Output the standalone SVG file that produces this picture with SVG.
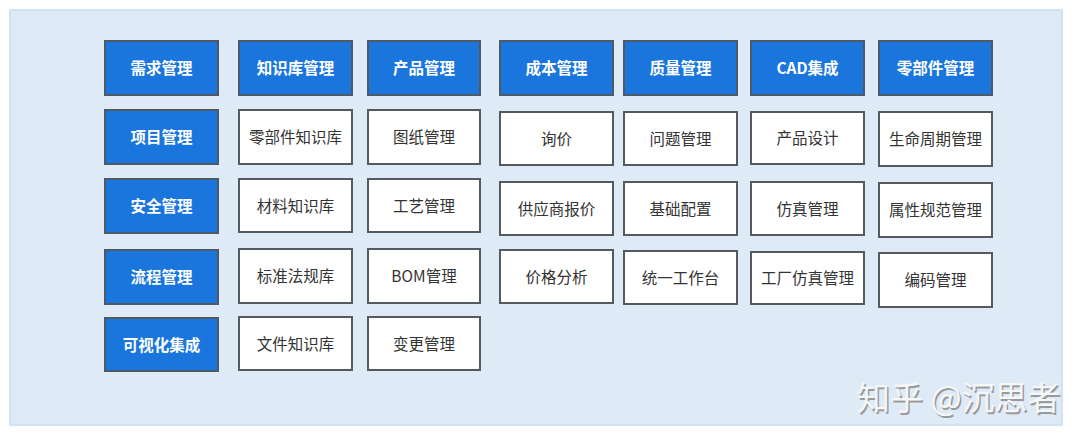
<svg xmlns="http://www.w3.org/2000/svg" width="1090" height="443" viewBox="0 0 1090 443">
<style>
.bg{fill:#ffffff}
.panel{fill:#deebf7;stroke:#c9dcef;stroke-width:1.5}
.hb{fill:#1a76dc;stroke:#4d5a66;stroke-width:2}
.wb{fill:#ffffff;stroke:#555a5f;stroke-width:2}
.ht{font-family:"Noto Sans CJK SC","Liberation Sans",sans-serif;font-size:15.5px;font-weight:bold;fill:#ffffff;text-anchor:middle;dominant-baseline:central}
.wt{font-family:"Noto Sans CJK SC","Liberation Sans",sans-serif;font-size:15.5px;fill:#333333;text-anchor:middle;dominant-baseline:central}
.wm{font-family:"Noto Sans CJK SC","Liberation Sans",sans-serif;font-size:33px;text-anchor:start}
</style>
<rect class="bg" x="0" y="0" width="1090" height="443"/>
<rect class="panel" x="10" y="10" width="1052" height="415"/>
<g id="n-xuqiu"><rect class="hb" x="105" y="41" width="113" height="54"/><text class="ht" x="161.5" y="67">需求管理</text></g>
<g id="n-xiangmu"><rect class="hb" x="105" y="110" width="113" height="54"/><text class="ht" x="161.5" y="136">项目管理</text></g>
<g id="n-anquan"><rect class="hb" x="105" y="179" width="113" height="54"/><text class="ht" x="161.5" y="205">安全管理</text></g>
<g id="n-liucheng"><rect class="hb" x="105" y="250" width="113" height="54"/><text class="ht" x="161.5" y="276">流程管理</text></g>
<g id="n-keshihua"><rect class="hb" x="105" y="318" width="113" height="53"/><text class="ht" x="161.5" y="343.5">可视化集成</text></g>

<g id="n-zhishiku"><rect class="hb" x="239" y="41" width="113" height="54"/><text class="ht" x="295.5" y="67">知识库管理</text></g>
<g id="n-lbjzsk"><rect class="wb" x="239" y="110" width="113" height="54"/><text class="wt" x="295.5" y="136">零部件知识库</text></g>
<g id="n-clzsk"><rect class="wb" x="239" y="179" width="113" height="53"/><text class="wt" x="295.5" y="204.5">材料知识库</text></g>
<g id="n-bzfgk"><rect class="wb" x="239" y="249" width="113" height="54"/><text class="wt" x="295.5" y="275">标准法规库</text></g>
<g id="n-wjzsk"><rect class="wb" x="239" y="317" width="113" height="53"/><text class="wt" x="295.5" y="342.5">文件知识库</text></g>

<g id="n-chanpin"><rect class="hb" x="368" y="41" width="112" height="54"/><text class="ht" x="424" y="67">产品管理</text></g>
<g id="n-tuzhi"><rect class="wb" x="368" y="110" width="112" height="54"/><text class="wt" x="424" y="136">图纸管理</text></g>
<g id="n-gongyi"><rect class="wb" x="368" y="179" width="112" height="53"/><text class="wt" x="424" y="204.5">工艺管理</text></g>
<g id="n-bom"><rect class="wb" x="368" y="249" width="112" height="54"/><text class="wt" x="424" y="275">BOM管理</text></g>
<g id="n-biangeng"><rect class="wb" x="368" y="317" width="112" height="53"/><text class="wt" x="424" y="342.5">变更管理</text></g>

<g id="n-chengben"><rect class="hb" x="500" y="41" width="113" height="54"/><text class="ht" x="556.5" y="67">成本管理</text></g>
<g id="n-xunjia"><rect class="wb" x="500" y="112" width="113" height="53"/><text class="wt" x="556.5" y="137.5">询价</text></g>
<g id="n-gysbj"><rect class="wb" x="500" y="182" width="113" height="53"/><text class="wt" x="556.5" y="207.5">供应商报价</text></g>
<g id="n-jgfx"><rect class="wb" x="500" y="250" width="113" height="53"/><text class="wt" x="556.5" y="275.5">价格分析</text></g>

<g id="n-zhiliang"><rect class="hb" x="624" y="41" width="113" height="54"/><text class="ht" x="680.5" y="67">质量管理</text></g>
<g id="n-wenti"><rect class="wb" x="624" y="112" width="113" height="53"/><text class="wt" x="680.5" y="137.5">问题管理</text></g>
<g id="n-jcpz"><rect class="wb" x="624" y="182" width="113" height="53"/><text class="wt" x="680.5" y="207.5">基础配置</text></g>
<g id="n-tygzt"><rect class="wb" x="624" y="251" width="113" height="53"/><text class="wt" x="680.5" y="276.5">统一工作台</text></g>

<g id="n-cad"><rect class="hb" x="751" y="41" width="113" height="54"/><text class="ht" x="807.5" y="67">CAD集成</text></g>
<g id="n-cpsj"><rect class="wb" x="751" y="112" width="113" height="52"/><text class="wt" x="807.5" y="137">产品设计</text></g>
<g id="n-fzgl"><rect class="wb" x="751" y="182" width="113" height="53"/><text class="wt" x="807.5" y="207.5">仿真管理</text></g>
<g id="n-gcfz"><rect class="wb" x="751" y="252" width="113" height="52"/><text class="wt" x="807.5" y="277">工厂仿真管理</text></g>

<g id="n-lbj"><rect class="hb" x="879" y="41" width="113" height="54"/><text class="ht" x="935.5" y="67">零部件管理</text></g>
<g id="n-smzq"><rect class="wb" x="879" y="112" width="113" height="54"/><text class="wt" x="935.5" y="138">生命周期管理</text></g>
<g id="n-sxgf"><rect class="wb" x="879" y="183" width="113" height="54"/><text class="wt" x="935.5" y="209">属性规范管理</text></g>
<g id="n-bmgl"><rect class="wb" x="879" y="253" width="113" height="54"/><text class="wt" x="935.5" y="279">编码管理</text></g>

<g id="connectors"></g>

<g id="watermark">
<text class="wm" x="858.5" y="411.5" fill="#9a9a9a">知乎 @沉思者</text>
<text class="wm" x="857" y="410" fill="#f4f6f8">知乎 @沉思者</text>
</g>
</svg>
